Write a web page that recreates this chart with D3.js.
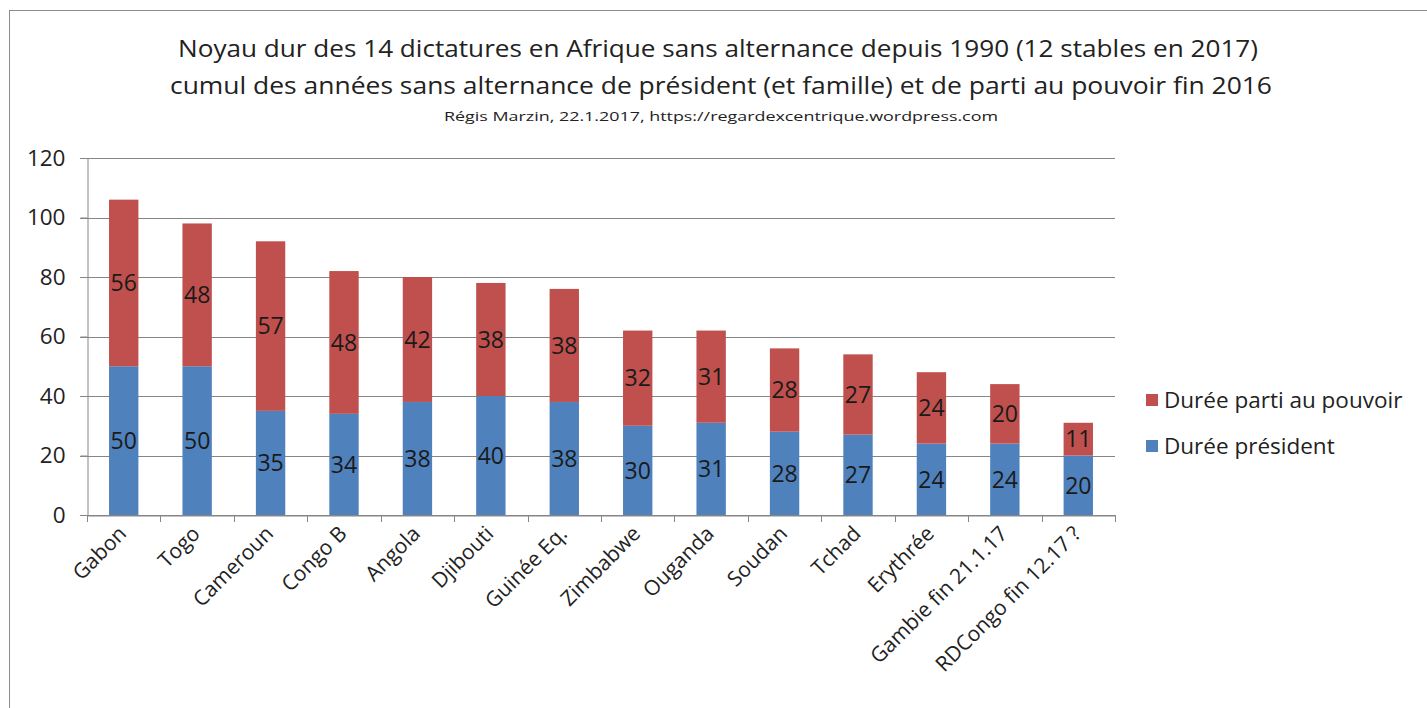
<!DOCTYPE html>
<html>
<head>
<meta charset="utf-8">
<script src="https://cdn.jsdelivr.net/npm/d3@7"></script>
<style>
  body { margin: 0; background: #fff; }
  svg { display: block; font-family: "Open Sans", "Noto Sans", sans-serif; }
</style>
</head>
<body>
<div class="chart"></div>
<script>
// data
const pays = ['Gabon','Togo','Cameroun','Congo B','Angola','Djibouti','Guinée Eq.','Zimbabwe','Ouganda','Soudan','Tchad','Erythrée','Gambie fin 21.1.17','RDCongo fin 12.17 ?']
const dureePresident = [50,50,35,34,38,40,38,30,31,28,27,24,24,20]
const dureeParti = [56,48,57,48,42,38,38,32,31,28,27,24,20,11]
const yTicks = [0,20,40,60,80,100,120]
const seriesNames = ['Durée président','Durée parti au pouvoir']
const colors = ['#4f81bd','#c0504d']

const titleLines = [
  'Noyau dur des 14 dictatures en Afrique sans alternance depuis 1990 (12 stables en 2017)',
  'cumul des années sans alternance de président (et famille) et de parti au pouvoir fin 2016'
]
const credit = 'Régis Marzin,  22.1.2017, https://regardexcentrique.wordpress.com'

const w = 1427
const h = 708

const svg = d3.select('.chart')
  .append('svg')
  .attr('width', w)
  .attr('height', h)

// chart frame
svg.append('rect')
  .attr('x', 9.5).attr('y', 10.5)
  .attr('width', w).attr('height', h)
  .attr('fill', 'none')
  .attr('stroke', '#8c8c8c')

// titles
svg.append('text').text(titleLines[0])
  .attr('x', 718).attr('y', 57)
  .attr('text-anchor', 'middle')
  .attr('font-size', 23).attr('fill', '#222')
  .attr('textLength', 1080).attr('lengthAdjust', 'spacingAndGlyphs')
svg.append('text').text(titleLines[1])
  .attr('x', 721).attr('y', 94)
  .attr('text-anchor', 'middle')
  .attr('font-size', 23).attr('fill', '#222')
  .attr('textLength', 1102).attr('lengthAdjust', 'spacingAndGlyphs')
svg.append('text').text(credit)
  .attr('x', 721).attr('y', 121)
  .attr('text-anchor', 'middle')
  .attr('font-size', 13).attr('fill', '#222')
  .attr('textLength', 554).attr('lengthAdjust', 'spacingAndGlyphs')

const plotLeft = 87, plotRight = 1115, plotTop = 158, plotBottom = 515

const x = d3.scaleBand()
  .domain(pays)
  .range([plotLeft, plotRight])
  .paddingInner(0.6)
  .paddingOuter(0.3)

const xTick = d3.scaleBand().domain(pays).range([plotLeft, plotRight])

const y = d3.scaleLinear()
  .domain([0, 120])
  .range([plotBottom, plotTop])

// gridlines
svg.append('g')
  .selectAll('line')
  .data(yTicks)
  .enter()
  .append('line')
  .attr('x1', plotLeft - 7).attr('x2', plotRight)
  .attr('y1', d => Math.round(y(d)) + 0.5)
  .attr('y2', d => Math.round(y(d)) + 0.5)
  .attr('stroke', '#868686')

// y axis
const yAxis = svg.append('g')
  .attr('transform', `translate(${plotLeft + 0.5},0)`)
  .call(d3.axisLeft(y).tickValues(yTicks).tickSize(7).tickPadding(15))
yAxis.select('.domain').attr('stroke', '#868686')
yAxis.selectAll('.tick line').attr('stroke', '#868686')
yAxis.selectAll('.tick text')
  .attr('font-size', 22.5)
  .attr('font-family', '"Open Sans", sans-serif')
  .attr('fill', '#222')

// stacked bars
const rows = pays.map((p, i) => ({pays: p, president: dureePresident[i], parti: dureeParti[i]}))
const stack = d3.stack().keys(['president', 'parti'])(rows)

const layers = svg.append('g')
  .selectAll('g')
  .data(stack)
  .enter()
  .append('g')
  .attr('fill', (d, i) => colors[i])

layers.selectAll('rect')
  .data(d => d)
  .enter()
  .append('rect')
  .attr('x', d => x(d.data.pays))
  .attr('y', d => y(d[1]))
  .attr('width', x.bandwidth())
  .attr('height', d => y(d[0]) - y(d[1]))

// values in the bars
layers.selectAll('text')
  .data(d => d)
  .enter()
  .append('text')
  .text(d => d[1] - d[0])
  .attr('x', d => x(d.data.pays) + x.bandwidth() / 2)
  .attr('y', d => (y(d[0]) + y(d[1])) / 2)
  .attr('dy', '0.36em')
  .attr('text-anchor', 'middle')
  .attr('font-size', 23)
  .attr('fill', '#1a1a1a')

// x axis
const xAxis = svg.append('g')
  .attr('transform', `translate(0,${plotBottom + 0.5})`)
  .call(d3.axisBottom(xTick).tickSize(0).tickFormat(''))
xAxis.select('.domain').attr('stroke', '#868686')

svg.append('g')
  .selectAll('line')
  .data(d3.range(pays.length + 1))
  .enter()
  .append('line')
  .attr('x1', i => Math.round(plotLeft + i * xTick.step()) + 0.5)
  .attr('x2', i => Math.round(plotLeft + i * xTick.step()) + 0.5)
  .attr('y1', plotBottom).attr('y2', plotBottom + 7)
  .attr('stroke', '#868686')

svg.append('g')
  .selectAll('text')
  .data(pays)
  .enter()
  .append('text')
  .text(d => d)
  .attr('transform', d => `translate(${xTick(d) + xTick.bandwidth() / 2 + 4},${plotBottom + 20}) rotate(-45)`)
  .attr('text-anchor', 'end')
  .attr('font-size', 21)
  .attr('fill', '#222')

// legend
const legend = svg.append('g')
  .selectAll('g')
  .data([1, 0])
  .enter()
  .append('g')
  .attr('transform', (d, i) => `translate(1146,${400 + i * 46})`)

legend.append('rect')
  .attr('x', 0).attr('y', -6)
  .attr('width', 12).attr('height', 12)
  .attr('fill', d => colors[d])

legend.append('text')
  .text(d => seriesNames[d])
  .attr('x', 18).attr('y', 0)
  .attr('dy', '0.36em')
  .attr('font-size', 22.5)
  .attr('fill', '#222')
</script>
</body>
</html>
